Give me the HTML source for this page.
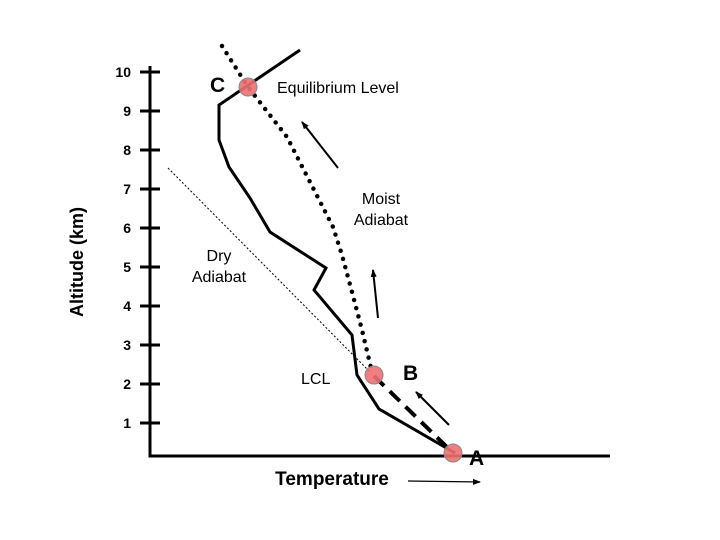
<!DOCTYPE html>
<html><head><style>body{margin:0;background:#fff}svg{display:block}text{font-family:"Liberation Sans",Arial,sans-serif}</style></head><body>
<svg width="720" height="540" viewBox="0 0 720 540">
<defs><marker id="ah" markerWidth="8" markerHeight="8" refX="7" refY="4" orient="auto" markerUnits="userSpaceOnUse"><path d="M0,1 L8,4 L0,7 z" fill="#000"/></marker></defs>
<g stroke="#000" stroke-width="3" fill="none">
<path d="M150,66 V456 H610"/>
<path d="M140,72H160M140,111H160M140,150H160M140,189H160M140,228H160M140,267H160M140,306H160M140,345H160M140,384H160M140,423H160"/>
</g>
<g font-size="14" font-weight="bold" text-anchor="end">
<text x="131" y="77">10</text><text x="131" y="116">9</text><text x="131" y="155">8</text><text x="131" y="194">7</text><text x="131" y="233">6</text><text x="131" y="272">5</text><text x="131" y="311">4</text><text x="131" y="350">3</text><text x="131" y="389">2</text><text x="131" y="428">1</text>
</g>
<text transform="translate(83,262) rotate(-90)" font-size="18" font-weight="bold" text-anchor="middle">Altitude (km)</text>
<text x="332" y="485" font-size="19" font-weight="bold" text-anchor="middle">Temperature</text>
<path d="M168,168 L370,372" stroke="#000" stroke-width="1" stroke-dasharray="2,2" fill="none"/>
<path d="M300,50 L219,105 L219,140 L229,167 L250,198 L270,232 L326,268 L314,290 L352,335 L357,375 L379,409 L455,453" stroke="#000" stroke-width="3" fill="none"/>
<path d="M222,46 L248,87 L287,137 L333,227 L342,255 L352,292 L362,330 L372,372" stroke="#000" stroke-width="4.5" stroke-dasharray="0,8.5" stroke-linecap="round" fill="none"/>
<path d="M374,376 L452,452" stroke="#000" stroke-width="4" stroke-dasharray="14,8" fill="none"/>
<g fill="#f07070" fill-opacity="0.9" stroke="#888" stroke-width="1">
<circle cx="248" cy="87" r="9"/><circle cx="374" cy="375" r="9"/><circle cx="453" cy="453" r="9"/>
</g>
<g stroke="#000" stroke-width="2" marker-end="url(#ah)">
<line x1="449" y1="425" x2="416" y2="392"/><line x1="378" y1="318" x2="373" y2="270"/><line x1="338" y1="168" x2="302" y2="122"/>
<line x1="408" y1="481" x2="480" y2="482" stroke-width="1.2"/>
</g>
<g font-size="21" font-weight="bold"><text x="210" y="92">C</text><text x="403" y="380">B</text><text x="469" y="465">A</text></g>
<g font-size="16">
<text x="277" y="93">Equilibrium Level</text>
<text x="381" y="204" text-anchor="middle">Moist</text><text x="381" y="225" text-anchor="middle">Adiabat</text>
<text x="219" y="261" text-anchor="middle">Dry</text><text x="219" y="282" text-anchor="middle">Adiabat</text>
<text x="301" y="384">LCL</text>
</g>
</svg>
</body></html>
